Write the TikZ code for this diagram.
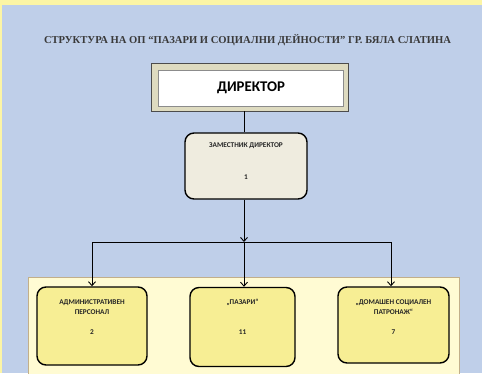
\documentclass[tikz,border=0pt]{standalone}
\usepackage{fontspec}
\setmainfont{Liberation Serif}
\newfontfamily\calfnt{Carlito}
\usetikzlibrary{arrows.meta}
\definecolor{bgblue}{HTML}{BFCFE9}
\definecolor{bandyel}{HTML}{FCF5A5}
\definecolor{panelyel}{HTML}{FFFBD3}
\definecolor{panelbrd}{HTML}{C2AF8A}
\definecolor{boxyel}{HTML}{F7EE94}
\definecolor{depfill}{HTML}{EFECDF}
\definecolor{dirtan}{HTML}{DEDBC0}
\definecolor{titlegray}{HTML}{3A3A3A}
\tikzset{
  unitbox/.style={draw=black, line width=1.4pt, rounded corners=9pt, fill=boxyel, inner sep=0pt},
  lbl/.style={font=\calfnt\bfseries\fontsize{7.3}{10.2}\selectfont, align=center, inner sep=0pt, text=black!85},
  conn/.style={line width=1pt, black},
  arr/.style={conn, -{Straight Barb[length=4pt,width=7pt,line width=0.9pt]}}
}
\begin{document}
\begin{tikzpicture}[x=1pt,y=-1pt]
\useasboundingbox (0,0) rectangle (482,373);
\clip (0,0) rectangle (482,373);
\fill[bandyel] (0,0) rectangle (482,373);
\fill[bgblue] (1.5,5) rectangle (482,373);
% title
\node[font=\bfseries\fontsize{10.6}{12}\selectfont, text=titlegray, inner sep=0pt] (title) at (247.5,40)
  {СТРУКТУРА НА ОП “ПАЗАРИ И СОЦИАЛНИ ДЕЙНОСТИ” ГР. БЯЛА СЛАТИНА};
% panel
\draw[panelbrd, fill=panelyel, line width=0.8pt] (28,277) rectangle (459,380);
% director
\node[draw=black!70, line width=0.8pt, fill=dirtan, minimum width=197pt, minimum height=48pt, inner sep=0pt] (dirO) at (249.5,87) {};
\node[draw=black!45, line width=0.6pt, fill=white, minimum width=185pt, minimum height=36pt, inner sep=0pt,
      font=\calfnt\bfseries\fontsize{14.8}{18}\selectfont] (dirI) at (251,88) {ДИРЕКТОР};
% deputy
\node[unitbox, fill=depfill, minimum width=122pt, minimum height=66pt] (dep) at (246,166) {};
\node[lbl] (depT) at (246,146) {ЗАМЕСТНИК ДИРЕКТОР};
\node[lbl] (depN) at (246,177) {1};
% units
\node[unitbox, minimum width=110pt, minimum height=78pt] (adm) at (92,326) {};
\node[lbl] (admT) at (92,307) {АДМИНИСТРАТИВЕН\\ПЕРСОНАЛ};
\node[lbl] (admN) at (92,332) {2};
\node[unitbox, minimum width=105pt, minimum height=79pt] (paz) at (242.5,327) {};
\node[lbl] (pazT) at (242.5,302) {„ПАЗАРИ“};
\node[lbl] (pazN) at (242.5,332) {11};
\node[unitbox, minimum width=111pt, minimum height=76pt] (dom) at (393.5,325) {};
\node[lbl] (domT) at (393.5,307) {„ДОМАШЕН СОЦИАЛЕН\\ПАТРОНАЖ“};
\node[lbl] (domN) at (393.5,332) {7};
% connectors
\coordinate (jn) at (244,242);
\coordinate (jl) at (92,242);
\coordinate (jr) at (391,242);
\draw[conn] (dirO.south -| jn) -- (dep.north -| jn);
\draw[arr] (dep.south -| jn) -- (jn);
\draw[conn] (jl) -- (jr);
\draw[arr] (jn) -- (paz.north -| jn);
\draw[arr] (jl) -- (adm.north -| jl);
\draw[arr] (jr) -- (dom.north -| jr);
\end{tikzpicture}
\end{document}
